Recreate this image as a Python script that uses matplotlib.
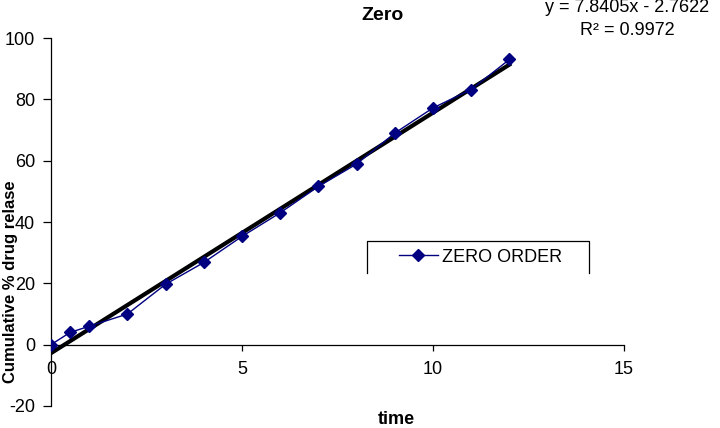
import numpy as np
import matplotlib
matplotlib.use("Agg")
import matplotlib.pyplot as plt
from matplotlib.lines import Line2D

plt.rcParams['font.family'] = ['Liberation Sans', 'DejaVu Sans']
plt.rcParams['axes.unicode_minus'] = False

# dissolution data
time = [0, 0.5, 1, 2, 3, 4, 5, 6, 7, 8, 9, 10, 11, 12]
release = [0, 4, 6, 10, 19.7, 26.8, 35.3, 43.0, 51.6, 58.9, 69.0, 77.2, 83.2, 93.0]

# linear trendline as printed on the chart
slope = 7.8405
intercept = -2.7622
r2 = 0.9972

fig = plt.figure(figsize=(7.2, 4.28), dpi=100)
ax = fig.add_axes([51 / 720, 1 - 406 / 428, (624 - 51) / 720, (406 - 38) / 428])

trend_x = np.array([time[0], time[-1]])
ax.plot(trend_x, slope * trend_x + intercept, color="black", lw=3, zorder=2)
ax.plot(time, release, color="#000080", lw=1, marker="D", markersize=6.5,
        label="ZERO ORDER", zorder=3)

ax.set_xlim(0, 15)
ax.set_ylim(-20, 100)
ax.set_xticks([0, 5, 10, 15])
ax.set_yticks([-20, 0, 20, 40, 60, 80, 100])

ax.spines['top'].set_visible(False)
ax.spines['right'].set_visible(False)
ax.spines['bottom'].set_position(('data', 0))
ax.spines['left'].set_linewidth(0.9)
ax.spines['bottom'].set_linewidth(0.9)

ax.tick_params(axis='x', direction='out', length=4, width=0.9, pad=8, labelsize=13)
ax.tick_params(axis='y', direction='out', length=5.5, width=0.9, pad=6, labelsize=13)

# legend with an open-bottom frame
fig.legend(loc='center left', bbox_to_anchor=(399 / 720, 1 - 257 / 428),
           frameon=False, fontsize=13, borderpad=0, borderaxespad=0,
           handlelength=2.15, handletextpad=0.25)
x0, x1 = 367 / 720, 589 / 720
yt, yb = 1 - 241 / 428, 1 - 273 / 428
fig.add_artist(Line2D([x0, x0, x1, x1], [yb, yt, yt, yb],
                      transform=fig.transFigure, color="black", lw=0.9))

fig.text(383 / 720, 1 - 15 / 428, "Zero", fontsize=14, fontweight="bold",
         ha="center", va="center")
fig.text(627 / 720, 1 - 12 / 428, "y = %.4fx - %.4f" % (slope, -intercept),
         fontsize=13, ha="center", va="baseline")
fig.text(627 / 720, 1 - 35 / 428, "R² = %.4f" % r2,
         fontsize=13, ha="center", va="baseline")

fig.text(11 / 720, 1 - 282 / 428, "Cumulative % drug relase", fontsize=12,
         fontweight="bold", rotation=90, ha="center", va="center")
fig.text(396 / 720, 1 - 420 / 428, "time", fontsize=13, fontweight="bold",
         ha="center", va="center")

plt.savefig("out.png", dpi=100)
